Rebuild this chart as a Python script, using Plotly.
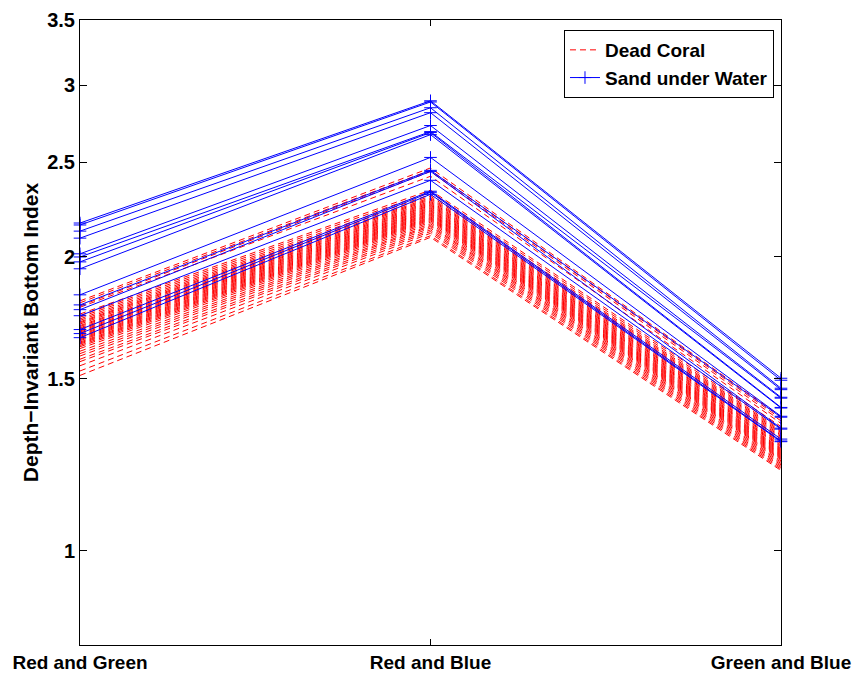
import math
import plotly.graph_objects as go

categories = ["Red and Green", "Red and Blue", "Green and Blue"]

# Dead Coral (red dashed) values at the three index positions
coral_rg = [1.803, 1.795, 1.782, 1.776, 1.748, 1.741, 1.735, 1.728, 1.722, 1.716,
            1.712, 1.707, 1.701, 1.697, 1.692, 1.688, 1.683, 1.679, 1.675, 1.671,
            1.666, 1.662, 1.658, 1.653, 1.649, 1.645, 1.641, 1.636, 1.632, 1.628,
            1.623, 1.618, 1.611, 1.601, 1.592, 1.583, 1.571, 1.562, 1.547, 1.528, 1.512]
coral_rb = [2.468, 2.455, 2.447, 2.420, 2.342, 2.331, 2.318, 2.309, 2.301, 2.295,
            2.289, 2.282, 2.276, 2.270, 2.264, 2.259, 2.253, 2.247, 2.242, 2.236,
            2.231, 2.226, 2.220, 2.215, 2.210, 2.205, 2.199, 2.194, 2.189, 2.184,
            2.178, 2.171, 2.163, 2.155, 2.149, 2.141, 2.132, 2.124, 2.115, 2.103, 2.095]
coral_gb = [1.372, 1.365, 1.358, 1.350, 1.340, 1.334, 1.329, 1.325, 1.321, 1.317,
            1.313, 1.309, 1.305, 1.301, 1.297, 1.294, 1.290, 1.287, 1.283, 1.280,
            1.277, 1.273, 1.270, 1.267, 1.264, 1.261, 1.258, 1.255, 1.252, 1.249,
            1.246, 1.243, 1.240, 1.236, 1.232, 1.228, 1.224, 1.220, 1.216, 1.212, 1.208]

# Sand under Water (blue, + markers)
sand_rg = [2.167, 2.157, 2.126, 2.091, 2.015, 2.000, 1.977, 1.945, 1.829, 1.786,
           1.766, 1.741, 1.685, 1.669, 1.653]
sand_rb = [2.892, 2.884, 2.845, 2.812, 2.728, 2.689, 2.683, 2.670, 2.530, 2.454,
           2.448, 2.397, 2.336, 2.330, 2.319]
sand_gb = [1.502, 1.495, 1.467, 1.462, 1.436, 1.433, 1.402, 1.400, 1.373, 1.370,
           1.335, 1.332, 1.301, 1.295, 1.293]

tick_vals = [1, 1.5, 2, 2.5, 3, 3.5]
tick_text = ["1", "1.5", "2", "2.5", "3", "3.5"]
y_min, y_max = 0.80, 3.5

FONT = "Liberation Sans, Arial, sans-serif"

fig = go.Figure()
xpos = [0, 1, 2]
for i, (a, b, c) in enumerate(zip(coral_rg, coral_rb, coral_gb)):
    fig.add_trace(go.Scatter(
        x=xpos, y=[a, b, c], mode="lines", name="Dead Coral",
        legendgroup="coral", showlegend=(i == 0),
        line=dict(color="#FF0000", width=1, dash="6px,4px"),
        hoverinfo="skip"))
for i, (a, b, c) in enumerate(zip(sand_rg, sand_rb, sand_gb)):
    fig.add_trace(go.Scatter(
        x=xpos, y=[a, b, c], mode="lines+markers", name="Sand under Water",
        legendgroup="sand", showlegend=(i == 0), cliponaxis=False,
        line=dict(color="#0000FF", width=1),
        marker=dict(symbol="cross-thin", size=9, color="#0000FF",
                    line=dict(color="#0000FF", width=1)),
        hoverinfo="skip"))

fig.update_layout(
    width=853, height=675,
    margin=dict(l=80, r=72, t=20, b=30, autoexpand=False),
    paper_bgcolor="white", plot_bgcolor="white",
    font=dict(family=FONT, size=19, color="black", weight="bold"),
    showlegend=True,
    legend=dict(x=0.990, xanchor="right", y=0.984, yanchor="top",
                bgcolor="white", bordercolor="black", borderwidth=1,
                font=dict(family=FONT, size=19, color="black", weight="bold"),
                tracegroupgap=0),
    xaxis=dict(range=[0, 2], tickvals=xpos, ticktext=categories,
               ticks="inside", ticklen=6, tickcolor="black",
               showline=True, linecolor="black", linewidth=1, mirror="ticks",
               showgrid=False, zeroline=False,
               tickfont=dict(family=FONT, size=19, color="black", weight="bold")),
    yaxis=dict(type="log", range=[math.log10(y_min), math.log10(y_max)],
               tickvals=tick_vals, ticktext=tick_text,
               ticks="inside", ticklen=7, tickcolor="black",
               showline=True, linecolor="black", linewidth=1, mirror="ticks",
               showgrid=False, zeroline=False,
               tickfont=dict(family=FONT, size=20, color="black", weight="bold"),
               title=dict(text="Depth\u2212Invariant Bottom Index",
                          font=dict(family=FONT, size=21, color="black", weight="bold"),
                          standoff=2)),
)

fig.write_html("out.html")
